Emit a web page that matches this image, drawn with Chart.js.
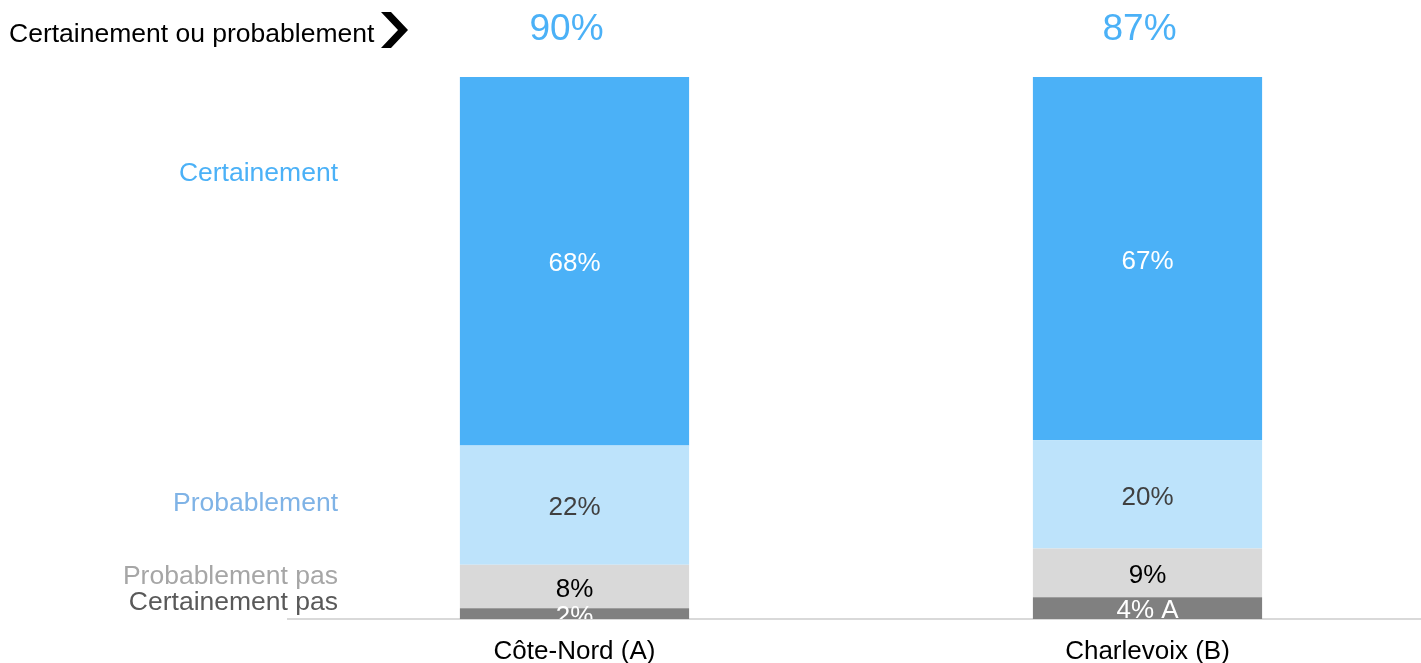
<!DOCTYPE html>
<html>
<head>
<meta charset="utf-8">
<script src="https://cdn.jsdelivr.net/npm/chart.js@4"></script>
<style>
  html, body { margin: 0; padding: 0; background: #fff; overflow: hidden; }
  #wrap { width: 1421px; height: 663px; position: relative; overflow: hidden; }
</style>
</head>
<body>
<div id="wrap"><canvas id="myChart" width="1434" height="663"></canvas></div>
<script>
var regions = ["Côte-Nord (A)", "Charlevoix (B)"];
var certainement = [68, 67];
var probablement = [22, 20];
var probablementPas = [8, 9];
var certainementPas = [2, 4];
var totalOui = [90, 87];
var sigCertPas = ["", " A"];

var FONT = "'Liberation Sans', Arial, sans-serif";

// libellés de gauche + titre + totaux + valeurs dans les segments
var extras = {
  id: 'extras',
  afterDatasetsDraw: function(chart) {
    var c = chart.ctx;
    var area = chart.chartArea;
    c.save();

    // valeurs dans les barres (coupées par l'axe)
    c.save();
    c.beginPath();
    c.rect(0, 0, chart.width, area.bottom);
    c.clip();
    c.font = "26px " + FONT;
    c.textAlign = 'center';
    c.textBaseline = 'middle';
    chart.data.datasets.forEach(function(ds, di) {
      var meta = chart.getDatasetMeta(di);
      meta.data.forEach(function(bar, i) {
        var txt = ds.data[i] + '%' + (ds.sig ? ds.sig[i] : '');
        c.fillStyle = ds.labelColor;
        c.fillText(txt, bar.x, (bar.y + bar.base) / 2 + 3);
      });
    });
    c.restore();

    // totaux en haut
    c.font = "37px " + FONT;
    c.fillStyle = '#4BB1F7';
    c.textAlign = 'center';
    c.textBaseline = 'middle';
    var meta0 = chart.getDatasetMeta(0);
    meta0.data.forEach(function(bar, i) {
      c.fillText(totalOui[i] + '%', bar.x - 8, 30);
    });

    // titre avec chevron
    c.font = "26.5px " + FONT;
    c.fillStyle = '#000';
    c.textAlign = 'left';
    c.fillText('Certainement ou probablement', 9, 35);
    c.beginPath();
    c.moveTo(381, 12);
    c.lineTo(391, 12);
    c.lineTo(408, 30);
    c.lineTo(391, 48);
    c.lineTo(381, 48);
    c.lineTo(398, 30);
    c.closePath();
    c.fill();

    // libellés de gauche
    c.textAlign = 'right';
    var left = [
      ['Certainement', '#4BB1F7', 174],
      ['Probablement', '#7FB3E6', 504],
      ['Probablement pas', '#A6A6A6', 577],
      ['Certainement pas', '#595959', 603]
    ];
    left.forEach(function(l) {
      c.fillStyle = l[1];
      c.fillText(l[0], 338, l[2]);
    });
    c.restore();
  }
};

var ctx = document.getElementById('myChart').getContext("2d");

var myChart = new Chart(ctx, {
  type: 'bar',
  data: {
    labels: regions,
    datasets: [{
        label: "Certainement pas",
        backgroundColor: "#808080",
        labelColor: "#FFFFFF",
        sig: sigCertPas,
        data: certainementPas
      },
      {
        label: "Probablement pas",
        backgroundColor: "#D9D9D9",
        labelColor: "#000000",
        data: probablementPas
      },
      {
        label: "Probablement",
        backgroundColor: "#BDE3FB",
        labelColor: "#404040",
        data: probablement
      },
      {
        label: "Certainement",
        backgroundColor: "#4BB1F7",
        labelColor: "#FFFFFF",
        data: certainement
      }
    ]
  },
  options: {
    responsive: false,
    animation: false,
    maintainAspectRatio: false,
    layout: {
      padding: { left: 288, right: 0, top: 77, bottom: 0 }
    },
    datasets: {
      bar: {
        barPercentage: 0.4,
        categoryPercentage: 1,
        borderWidth: 0
      }
    },
    scales: {
      x: {
        stacked: true,
        afterFit: function(scale) { scale.height = 44; },
        grid: { display: false },
        border: { display: true, color: '#D9D9D9', width: 2 },
        ticks: {
          color: '#000',
          padding: 9,
          maxRotation: 0,
          font: { family: FONT, size: 26 }
        }
      },
      y: {
        stacked: true,
        display: false,
        min: 0,
        max: 100
      }
    },
    plugins: {
      legend: { display: false },
      tooltip: { enabled: false }
    }
  },
  plugins: [extras]
});
</script>
</body>
</html>
